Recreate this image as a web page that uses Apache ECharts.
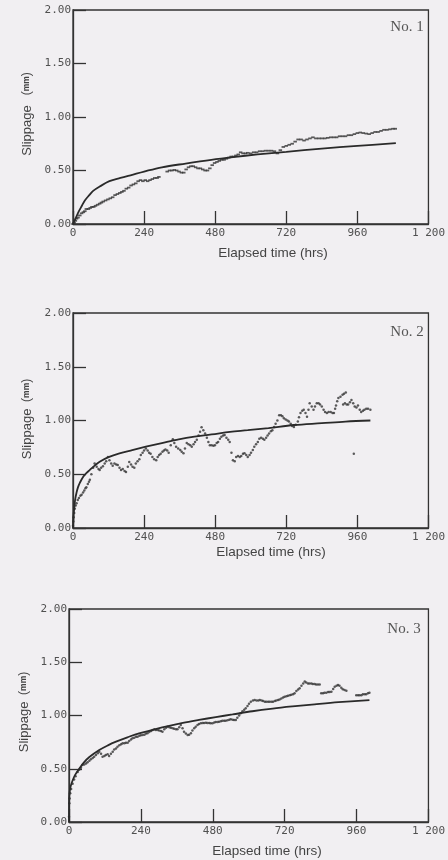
<!DOCTYPE html>
<html>
<head>
<meta charset="utf-8">
<script src="https://cdn.jsdelivr.net/npm/echarts@6/dist/echarts.min.js"></script>
<style>
  html, body { margin: 0; padding: 0; background: #f1eff2; }
  #chart { width: 448px; height: 860px; }
</style>
</head>
<body>
<div id="chart"></div>
<script>
// tick labels
const xTicks = [0, 240, 480, 720, 960, 1200]
const yTicks = [0, 0.5, 1, 1.5, 2]
const panelNames = ['No. 1', 'No. 2', 'No. 3']

// measured slippage [hours, mm]
const measured1 = [[0,0],[4,0.01],[8,0.03],[12,0.05],[17,0.06],[23,0.08],[29,0.1],[35,0.11],[40,0.12],[45,0.14],[52,0.14],[58,0.15],[64,0.16],[70,0.16],[76,0.17],[83,0.18],[90,0.19],[96,0.2],[102,0.21],[110,0.22],[118,0.23],[126,0.24],[134,0.25],[142,0.27],[150,0.28],[158,0.29],[165,0.3],[172,0.31],[180,0.33],[188,0.34],[196,0.36],[204,0.37],[212,0.38],[220,0.4],[228,0.41],[236,0.4],[244,0.41],[252,0.4],[260,0.41],[268,0.42],[276,0.43],[284,0.43],[290,0.44],
  [318,0.49],[326,0.5],[334,0.5],[342,0.505],[350,0.5],[358,0.49],[366,0.48],[374,0.48],[382,0.51],[390,0.53],[398,0.54],[406,0.54],[414,0.53],[422,0.52],[430,0.52],[438,0.51],[446,0.5],[454,0.5],[462,0.52],[470,0.55],[478,0.57],[486,0.58],[494,0.59],[502,0.6],[510,0.6],[518,0.61],[526,0.62],[534,0.63],[542,0.63],[550,0.64],[558,0.65],[566,0.67],[574,0.66],[582,0.66],[590,0.665],[600,0.66],[610,0.67],[620,0.67],[630,0.68],[640,0.68],[650,0.685],[660,0.685],[670,0.685],[680,0.68],[690,0.66],[700,0.69],[710,0.72],[720,0.73],[730,0.74],[740,0.75],[750,0.77],[760,0.79],[770,0.79],[780,0.78],[790,0.79],[800,0.8],[810,0.81],[820,0.8],[830,0.8],[840,0.8],[850,0.8],[860,0.805],[870,0.81],[880,0.81],[890,0.81],[900,0.82],[910,0.82],[920,0.82],[930,0.83],[940,0.83],[950,0.84],[960,0.85],[970,0.855],[980,0.85],[990,0.845],[1000,0.84],[1010,0.85],[1020,0.86],[1030,0.86],[1040,0.87],[1050,0.88],[1060,0.88],[1070,0.885],[1080,0.89],[1088,0.89]]

const measured2 = [[0,0.02],[1,0.06],[2,0.1],[4,0.14],[6,0.18],[9,0.21],[12,0.23],[16,0.26],[20,0.28],[25,0.3],[29,0.31],[34,0.33],[38,0.35],[42,0.37],[45,0.38],[50,0.41],[54,0.43],[57,0.45],[62,0.5],[68,0.56],[73,0.6],[80,0.57],[86,0.55],[90,0.54],[95,0.56],[101,0.575],[107,0.6],[112,0.62],[118,0.66],[123,0.63],[129,0.6],[134,0.58],[140,0.6],[146,0.59],[151,0.585],[157,0.56],[162,0.54],[168,0.55],[174,0.53],[179,0.52],[185,0.57],[190,0.615],[196,0.59],[201,0.57],[207,0.56],[212,0.6],[218,0.62],[224,0.64],[229,0.68],[235,0.7],[240,0.72],[246,0.74],[252,0.72],[257,0.7],[262,0.69],[268,0.66],[274,0.64],[281,0.63],[286,0.66],[291,0.68],[296,0.69],[302,0.71],[307,0.72],[312,0.73],[318,0.72],[323,0.7],[330,0.77],[337,0.825],[342,0.79],[348,0.756],[355,0.74],[362,0.726],[367,0.71],[373,0.695],[378,0.74],[384,0.79],[390,0.78],[396,0.77],[401,0.756],[407,0.78],[412,0.8],[418,0.82],[424,0.86],[429,0.896],[434,0.937],[440,0.91],[446,0.88],[452,0.84],[457,0.8],[462,0.77],[468,0.77],[474,0.765],[479,0.77],[485,0.79],[490,0.8],[496,0.83],[501,0.85],[507,0.86],[512,0.865],[518,0.84],[524,0.82],[529,0.8],[535,0.7],[540,0.63],[546,0.62],[551,0.66],[557,0.67],[563,0.66],[568,0.67],[574,0.69],[579,0.695],[585,0.68],[590,0.66],[596,0.68],[601,0.7],[607,0.726],[612,0.756],[618,0.78],[624,0.8],[629,0.83],[635,0.84],[641,0.83],[646,0.82],[652,0.84],[657,0.86],[662,0.88],[668,0.9],[673,0.91],[679,0.94],[684,0.97],[690,1.0],[696,1.05],[702,1.05],[707,1.04],[712,1.02],[718,1.01],[724,1.0],[729,0.99],[735,0.97],[740,0.95],[746,0.94],[752,0.96],[759,0.99],[763,1.03],[768,1.07],[774,1.09],[779,1.1],[785,1.07],[790,1.035],[795,1.1],[799,1.16],[806,1.13],[812,1.1],[817,1.13],[823,1.16],[829,1.16],[834,1.15],[840,1.13],[846,1.1],[851,1.08],[857,1.07],[863,1.08],[870,1.08],[876,1.07],[881,1.07],[885,1.11],[888,1.14],[892,1.18],[896,1.21],[903,1.22],[910,1.24],[915,1.25],[921,1.26],[912,1.15],[918,1.16],[924,1.15],[929,1.15],[935,1.17],[940,1.19],[946,1.16],[951,1.13],[957,1.12],[962,1.14],[968,1.1],[973,1.08],[979,1.09],[984,1.1],[990,1.11],[996,1.11],[1004,1.1],[948,0.69]]

const measured3 = [[0,0.05],[1,0.175],[2,0.22],[4,0.27],[7,0.31],[12,0.36],[17,0.4],[22,0.43],[29,0.47],[34,0.49],[40,0.51],[45,0.535],[51,0.54],[57,0.55],[62,0.56],[68,0.575],[73,0.59],[79,0.6],[84,0.613],[90,0.63],[96,0.645],[101,0.66],[107,0.64],[112,0.613],[118,0.62],[123,0.63],[129,0.635],[134,0.62],[140,0.64],[146,0.66],[151,0.68],[157,0.69],[162,0.707],[168,0.72],[174,0.73],[179,0.74],[185,0.74],[190,0.745],[196,0.745],[201,0.76],[207,0.775],[212,0.786],[218,0.79],[224,0.8],[229,0.8],[235,0.81],[240,0.815],[246,0.817],[252,0.82],[257,0.83],[262,0.833],[268,0.845],[274,0.855],[279,0.864],[285,0.87],[290,0.865],[296,0.864],[301,0.86],[307,0.855],[312,0.848],[318,0.87],[324,0.885],[329,0.895],[335,0.89],[340,0.885],[346,0.88],[351,0.875],[357,0.87],[362,0.87],[368,0.89],[373,0.91],[379,0.88],[384,0.848],[390,0.83],[396,0.817],[401,0.82],[407,0.833],[412,0.86],[418,0.88],[423,0.895],[429,0.91],[434,0.92],[440,0.927],[446,0.93],[451,0.93],[457,0.932],[462,0.93],[468,0.93],[473,0.928],[479,0.927],[485,0.935],[490,0.94],[496,0.94],[501,0.942],[507,0.945],[512,0.95],[518,0.95],[523,0.951],[529,0.955],[535,0.96],[540,0.964],[546,0.96],[551,0.958],[557,0.958],[562,0.98],[568,1.0],[573,1.02],[579,1.04],[585,1.055],[590,1.067],[596,1.09],[601,1.11],[607,1.13],[614,1.14],[620,1.145],[626,1.14],[632,1.14],[637,1.145],[643,1.14],[648,1.135],[654,1.13],[659,1.13],[665,1.13],[670,1.13],[676,1.13],[681,1.13],[687,1.135],[692,1.14],[698,1.145],[703,1.15],[709,1.16],[715,1.17],[720,1.175],[726,1.18],[731,1.185],[737,1.19],[742,1.195],[748,1.2],[753,1.21],[759,1.23],[765,1.245],[770,1.255],[776,1.28],[782,1.3],[787,1.32],[792,1.31],[798,1.3],[803,1.3],[809,1.3],[814,1.296],[820,1.296],[825,1.29],[831,1.29],[837,1.29],[842,1.21],[848,1.21],[853,1.214],[859,1.214],[865,1.22],[870,1.22],[876,1.223],[882,1.25],[887,1.27],[893,1.28],[898,1.286],[903,1.28],[909,1.26],[914,1.246],[920,1.24],[926,1.233],[959,1.19],[965,1.19],[970,1.19],[976,1.19],[981,1.2],[987,1.2],[992,1.2],[998,1.21],[1003,1.214]]

// fitted curves [hours, mm]
const fit1 = [[0,0],[5,0.03],[10,0.06],[20,0.12],[30,0.17],[40,0.22],[55,0.27],[68,0.31],[90,0.35],[123,0.4],[160,0.43],[200,0.46],[240,0.49],[300,0.53],[380,0.565],[467,0.6],[540,0.625],[623,0.65],[720,0.675],[840,0.705],[960,0.73],[1090,0.755]]
const fit2 = [[0,0],[2,0.12],[4,0.18],[7,0.26],[12,0.33],[17,0.38],[23,0.42],[35,0.48],[45,0.51],[57,0.54],[73,0.58],[90,0.617],[120,0.66],[157,0.695],[200,0.725],[246,0.756],[300,0.79],[357,0.825],[410,0.85],[468,0.87],[530,0.895],[590,0.91],[660,0.93],[746,0.958],[840,0.975],[920,0.99],[1004,1.0]]
const fit3 = [[0,0],[0.5,0.15],[1,0.24],[3,0.3],[6,0.34],[12,0.39],[20,0.44],[34,0.5],[50,0.56],[68,0.61],[101,0.676],[130,0.72],[157,0.754],[195,0.795],[234,0.833],[280,0.865],[323,0.895],[380,0.93],[434,0.958],[490,0.985],[546,1.01],[612,1.04],[680,1.065],[746,1.085],[820,1.105],[900,1.125],[1003,1.145]]

const measuredAll = [measured1, measured2, measured3]
const fitAll = [fit1, fit2, fit3]

// panel boxes
const boxes = [
  { left: 73, top: 10, width: 360, height: 214 },
  { left: 73, top: 313, width: 361, height: 215 },
  { left: 69, top: 609, width: 361, height: 213 }
]

const ink = '#333'
const labelColor = '#505050'

const chart = echarts.init(document.getElementById('chart'), null, { renderer: 'canvas' })

const grids = boxes.map(b => ({
  left: b.left, top: b.top, width: b.width, height: b.height,
  show: true, borderColor: ink, borderWidth: 1.3, backgroundColor: 'transparent'
}))

const xAxes = boxes.map((b, i) => ({
  gridIndex: i,
  type: 'value',
  min: xTicks[0],
  max: xTicks[xTicks.length - 1],
  interval: 240,
  axisLine: { lineStyle: { color: ink, width: 1.3 } },
  axisTick: { inside: true, length: 13, lineStyle: { color: ink, width: 1.3 } },
  axisLabel: {
    margin: 4, color: labelColor, fontFamily: 'DejaVu Sans Mono', fontSize: 11,
    formatter: v => v >= 1000 ? String(v).replace(/^(\d)(\d{3})$/, '$1 $2') : String(v)
  },
  splitLine: { show: false }
}))

const yAxes = boxes.map((b, i) => ({
  gridIndex: i,
  type: 'value',
  min: yTicks[0],
  max: yTicks[yTicks.length - 1],
  interval: 0.5,
  axisLine: { lineStyle: { color: ink, width: 1.3 } },
  axisTick: { inside: true, length: 13, lineStyle: { color: ink, width: 1.3 } },
  axisLabel: {
    margin: 2, color: labelColor, fontFamily: 'DejaVu Sans Mono', fontSize: 11,
    formatter: v => v.toFixed(2)
  },
  splitLine: { show: false }
}))

let series = []
for (let i = 0; i < 3; i++) {
  series.push({
    type: 'scatter',
    xAxisIndex: i,
    yAxisIndex: i,
    data: measuredAll[i],
    symbol: i === 0 ? 'rect' : 'circle',
    symbolSize: i === 0 ? [3.5, 1.8] : 2.5,
    itemStyle: { color: '#333' },
    silent: true
  })
  series.push({
    type: 'line',
    xAxisIndex: i,
    yAxisIndex: i,
    data: fitAll[i],
    showSymbol: false,
    smooth: 0.35,
    lineStyle: { color: '#2a2a2a', width: 1.8 },
    silent: true
  })
}

// axis names and panel labels
const xNamePos = [[273, 253], [271, 552], [267, 851]]
const yNamePos = [[27, 114], [27, 419], [24, 712]]
const tagPos = [[407, 27], [407, 332], [404, 629]]
let graphic = []
for (let i = 0; i < 3; i++) {
  graphic.push({
    type: 'text', x: xNamePos[i][0], y: xNamePos[i][1],
    style: {
      text: 'Elapsed time (hrs)', fill: '#444',
      font: '13.5px "Liberation Sans", Arial, sans-serif',
      align: 'center', verticalAlign: 'middle'
    }
  })
  graphic.push({
    type: 'text', x: yNamePos[i][0], y: yNamePos[i][1], rotation: Math.PI / 2,
    style: {
      text: '{a|Slippage}{p|' + (i === 0 ? '   (' : '  (') + '}{m|mm}{p|)}',
      align: 'center', verticalAlign: 'middle',
      rich: {
        a: { fill: '#444', fontSize: 13, fontFamily: 'Liberation Sans' },
        p: { fill: '#444', fontSize: 12, fontFamily: 'Liberation Sans' },
        m: { fill: '#444', fontSize: 8.5, fontFamily: 'Liberation Sans', fontWeight: 'bold' }
      }
    }
  })
  graphic.push({
    type: 'text', x: tagPos[i][0], y: tagPos[i][1],
    style: {
      text: panelNames[i], fill: '#555',
      font: '15px "Liberation Serif", "DejaVu Serif", serif',
      align: 'center', verticalAlign: 'middle'
    }
  })
}

chart.setOption({
  backgroundColor: '#f1eff2',
  animation: false,
  grid: grids,
  xAxis: xAxes,
  yAxis: yAxes,
  series: series,
  graphic: graphic
})
</script>
</body>
</html>
